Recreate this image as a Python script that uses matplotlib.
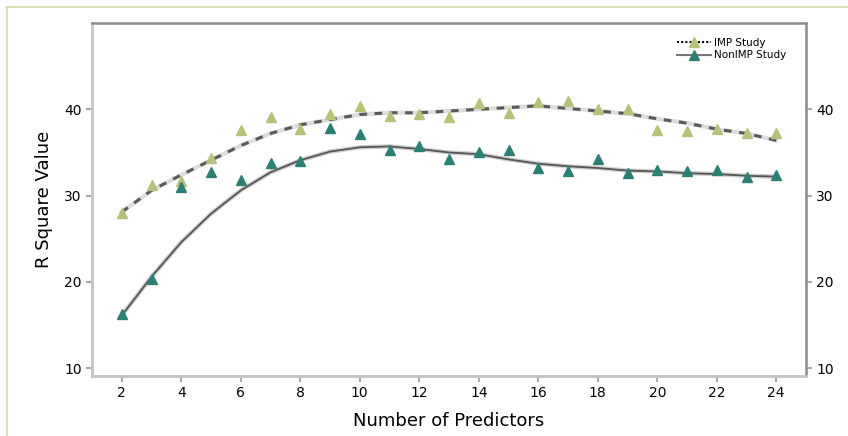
import matplotlib
matplotlib.use('Agg')
import matplotlib.pyplot as plt
from matplotlib.lines import Line2D

# number of predictors
predictors = [2, 3, 4, 5, 6, 7, 8, 9, 10, 11, 12, 13, 14, 15, 16, 17, 18, 19, 20, 21, 22, 23, 24]

# observed R square values
imp_vals = [28.0, 31.2, 31.7, 34.4, 37.6, 39.1, 37.7, 39.4, 40.4, 39.2, 39.5, 39.1,
            40.7, 39.6, 40.9, 41.0, 40.0, 40.0, 37.6, 37.5, 37.7, 37.2, 37.2]
nonimp_vals = [16.3, 20.3, 31.0, 32.7, 31.8, 33.8, 34.0, 37.8, 37.1, 35.3, 35.7, 34.3,
               35.1, 35.3, 33.2, 32.9, 34.3, 32.6, 33.0, 32.9, 33.0, 32.2, 32.4]

# smoothed fit curves
imp_fit = [28.1, 30.6, 32.4, 34.1, 35.8, 37.2, 38.2, 38.8, 39.4, 39.6, 39.6, 39.8,
           40.0, 40.2, 40.4, 40.1, 39.8, 39.5, 38.9, 38.4, 37.7, 37.2, 36.4]
nonimp_fit = [16.1, 20.6, 24.6, 27.9, 30.6, 32.7, 34.1, 35.1, 35.6, 35.7, 35.4, 35.0,
              34.8, 34.2, 33.7, 33.4, 33.2, 32.9, 32.8, 32.6, 32.5, 32.3, 32.2]

xticks = [2, 4, 6, 8, 10, 12, 14, 16, 18, 20, 22, 24]
yticks = [10, 20, 30, 40]

GREEN = '#b4c27a'
TEAL = '#2c8073'

fig = plt.figure(figsize=(8.48, 4.36), dpi=100)
ax = fig.add_axes([92/848, 1 - 376/436, (806-92)/848, (376-23)/436])

# fitted curves (light halo + darker core)
ax.plot(predictors, imp_fit, color='#dddddd', lw=3, zorder=2)
ax.plot(predictors, imp_fit, color='#5a5a5a', lw=2.2, ls=(0, (2.5, 2.5)), zorder=3)
ax.plot(predictors, nonimp_fit, color='#cfcfcf', lw=3.2, zorder=2)
ax.plot(predictors, nonimp_fit, color='#555555', lw=1.3, zorder=3)

ax.plot(predictors, imp_vals, ls='none', marker='^', ms=7.5, color=GREEN, zorder=4)
ax.plot(predictors, nonimp_vals, ls='none', marker='^', ms=7.5, color=TEAL, zorder=4)

ax.set_xlim(1, 25)
ax.set_ylim(9.1, 50)
ax.set_xticks(xticks)
ax.set_yticks(yticks)
ax.tick_params(axis='both', labelsize=10, colors='#aaaaaa', labelcolor='black',
               length=4, width=1.5)
ax.tick_params(axis='y', right=True, labelright=True)

for side in ('left', 'bottom'):
    ax.spines[side].set_color('#c4c4c4')
    ax.spines[side].set_linewidth(2)
for side in ('top', 'right'):
    ax.spines[side].set_color('#8c8c8c')
    ax.spines[side].set_linewidth(1.8)

ax.set_xlabel('Number of Predictors', fontsize=13, labelpad=8)
ax.set_ylabel('R Square Value', fontsize=13, labelpad=8)

handles = [
    Line2D([], [], color='black', ls=(0, (1, 1)), lw=1.5, marker='^', ms=7,
           markerfacecolor=GREEN, markeredgecolor=GREEN),
    Line2D([], [], color='#777777', lw=1.5, marker='^', ms=7,
           markerfacecolor=TEAL, markeredgecolor=TEAL),
]
ax.legend(handles, ['IMP Study', 'NonIMP Study'], loc='upper right',
          bbox_to_anchor=(0.985, 0.985), frameon=False, fontsize=7.5,
          handlelength=3.2, handletextpad=0.3, labelspacing=0.25)

# outer frame
fig.add_artist(Line2D([7/848, 1], [1 - 7/436, 1 - 7/436], color='#d8dfb4', lw=1.5))
fig.add_artist(Line2D([7/848, 7/848], [0, 1 - 7/436], color='#d8dfb4', lw=1.5))

fig.savefig('out.png', dpi=100)
